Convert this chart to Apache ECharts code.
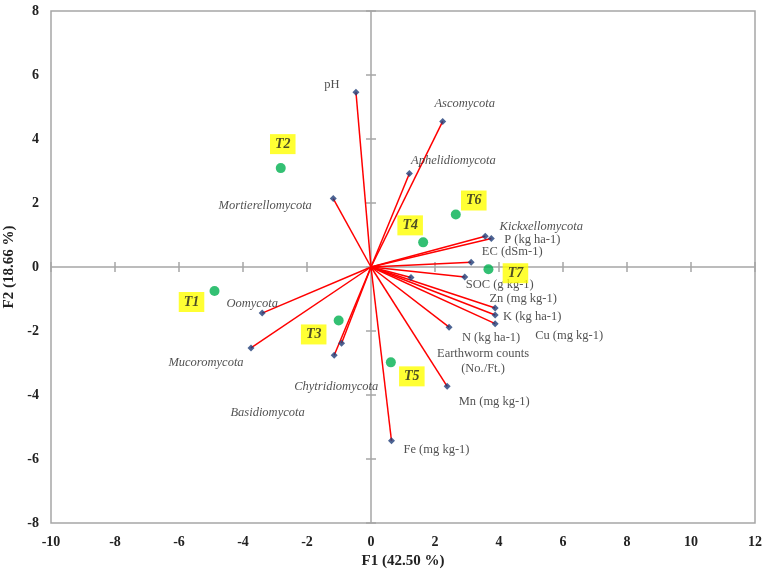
<!DOCTYPE html>
<html><head><meta charset="utf-8">
<script src="https://cdn.jsdelivr.net/npm/echarts@6/dist/echarts.min.js"></script>
<style>html,body{margin:0;padding:0;background:#fff}#c{width:767px;height:578px}</style>
</head><body><div id="c"></div>
<script>
// Tick values
const xTicks = [-10,-8,-6,-4,-2,0,2,4,6,8,10,12];
const yTicks = [-8,-6,-4,-2,0,2,4,6,8];

// Variable vectors (loadings)
const varNames = ['pH','Ascomycota','Aphelidiomycota','Mortierellomycota','Kickxellomycota','P (kg ha-1)','EC (dSm-1)','SOC (g kg-1)','Zn (mg kg-1)','K (kg ha-1)','Cu (mg kg-1)','N (kg ha-1)','Earthworm counts\n(No./Ft.)','Mn (mg kg-1)','Fe (mg kg-1)','Oomycota','Mucoromycota','Chytridiomycota','Basidiomycota'];
const varF1 = [-0.47,2.24,1.20,-1.18,3.57,3.76,3.13,2.93,3.88,3.88,3.88,2.44,1.25,2.38,0.64,-3.40,-3.75,-1.15,-0.92];
const varF2 = [5.46,4.55,2.92,2.14,0.96,0.89,0.15,-0.31,-1.28,-1.50,-1.77,-1.88,-0.33,-3.73,-5.43,-1.44,-2.53,-2.76,-2.38];

// Treatments (observations)
const trtNames = ['T1','T2','T3','T4','T5','T6','T7'];
const trtF1 = [-4.89,-2.82,-1.01,1.63,0.62,2.65,3.67];
const trtF2 = [-0.75,3.09,-1.67,0.77,-2.98,1.64,-0.07];

// Label placement (style only)
const varLabelOffsets = [[-24,-8],[22,-18],[44,-13],[-68,7],[56,-10],[41,1],[41,-10],[35,8],[28,-9],[37,2],[74,12],[42,11],[72,84],[47,15],[45,9],[-10,-9],[-45,15],[2,31],[-74,70]];
const trtLabelOffsets = [[-23,11],[2,-24],[-25,14],[-13,-17],[21,14],[18,-14],[27,4]];

const FONT = '"Liberation Serif", "DejaVu Serif", serif';
const AXIS_COLOR = '#a6a6a6';

const chart = echarts.init(document.getElementById('c'));

const varData = varNames.map((n,i)=>({
  name:n, value:[varF1[i],varF2[i]],
  label:{offset:varLabelOffsets[i], fontStyle: /mycota$/.test(n)?'italic':'normal'}
}));
const trtData = trtNames.map((n,i)=>({
  name:n, value:[trtF1[i],trtF2[i]],
  label:{offset:trtLabelOffsets[i]}
}));

chart.setOption({
  animation:false,
  grid:{left:51,right:12,top:11,bottom:55,show:true,borderColor:AXIS_COLOR,borderWidth:1.5,backgroundColor:'#fff',
    containLabel:false,outerBoundsMode:'none'},
  xAxis:{type:'value',min:-10,max:12,interval:2,
    axisLine:{show:false,onZero:false},axisTick:{show:false},splitLine:{show:false},
    axisLabel:{fontFamily:FONT,fontWeight:'bold',fontSize:14,color:'#222',margin:12},
    name:'F1 (42.50 %)',nameLocation:'middle',nameGap:31,
    nameTextStyle:{fontFamily:FONT,fontWeight:'bold',fontSize:15,color:'#222'}},
  yAxis:{type:'value',min:-8,max:8,interval:2,
    axisLine:{show:false,onZero:false},axisTick:{show:false},splitLine:{show:false},
    axisLabel:{fontFamily:FONT,fontWeight:'bold',fontSize:14,color:'#222',margin:12},
    name:'F2 (18.66 %)',nameLocation:'middle',nameGap:29,
    nameTextStyle:{fontFamily:FONT,fontWeight:'bold',fontSize:15,color:'#222'}},
  series:[
    { // zero axes with cross ticks
      type:'custom', z:1, silent:true, data:[[0,0]],
      renderItem:function(params,api){
        const ch=[];
        const st={stroke:AXIS_COLOR,lineWidth:1.5};
        const a=api.coord([xTicks[0],0]), b=api.coord([xTicks[xTicks.length-1],0]);
        ch.push({type:'line',shape:{x1:a[0],y1:a[1],x2:b[0],y2:b[1]},style:st});
        const c=api.coord([0,yTicks[0]]), d=api.coord([0,yTicks[yTicks.length-1]]);
        ch.push({type:'line',shape:{x1:c[0],y1:c[1],x2:d[0],y2:d[1]},style:st});
        xTicks.forEach(t=>{const p=api.coord([t,0]);ch.push({type:'line',shape:{x1:p[0],y1:p[1]-5,x2:p[0],y2:p[1]+5},style:st});});
        yTicks.forEach(t=>{const p=api.coord([0,t]);ch.push({type:'line',shape:{x1:p[0]-5,y1:p[1],x2:p[0]+5,y2:p[1]},style:st});});
        return {type:'group',children:ch};
      }
    },
    { // vectors
      type:'custom', z:2, silent:true,
      data:varF1.map((x,i)=>[x,varF2[i]]),
      renderItem:function(params,api){
        const o=api.coord([0,0]), p=api.coord([api.value(0),api.value(1)]);
        return {type:'line',shape:{x1:o[0],y1:o[1],x2:p[0],y2:p[1]},style:{stroke:'#ff0000',lineWidth:1.5}};
      }
    },
    { // vector endpoints
      type:'scatter', z:3, symbol:'diamond', symbolSize:7,
      itemStyle:{color:'#1f3d78'},
      label:{show:true,position:'inside',formatter:'{b}',fontFamily:FONT,fontSize:12.5,color:'#262626',lineHeight:15},
      data:varData
    },
    { // treatments
      type:'scatter', z:4, symbol:'circle', symbolSize:10,
      itemStyle:{color:'#00b050'},
      label:{show:true,position:'inside',formatter:'{b}',fontFamily:FONT,fontSize:14,fontWeight:'bold',fontStyle:'italic',color:'#222',
        backgroundColor:'#ffff00',padding:[4,5,2,5]},
      data:trtData
    }
  ]
});
</script></body></html>
